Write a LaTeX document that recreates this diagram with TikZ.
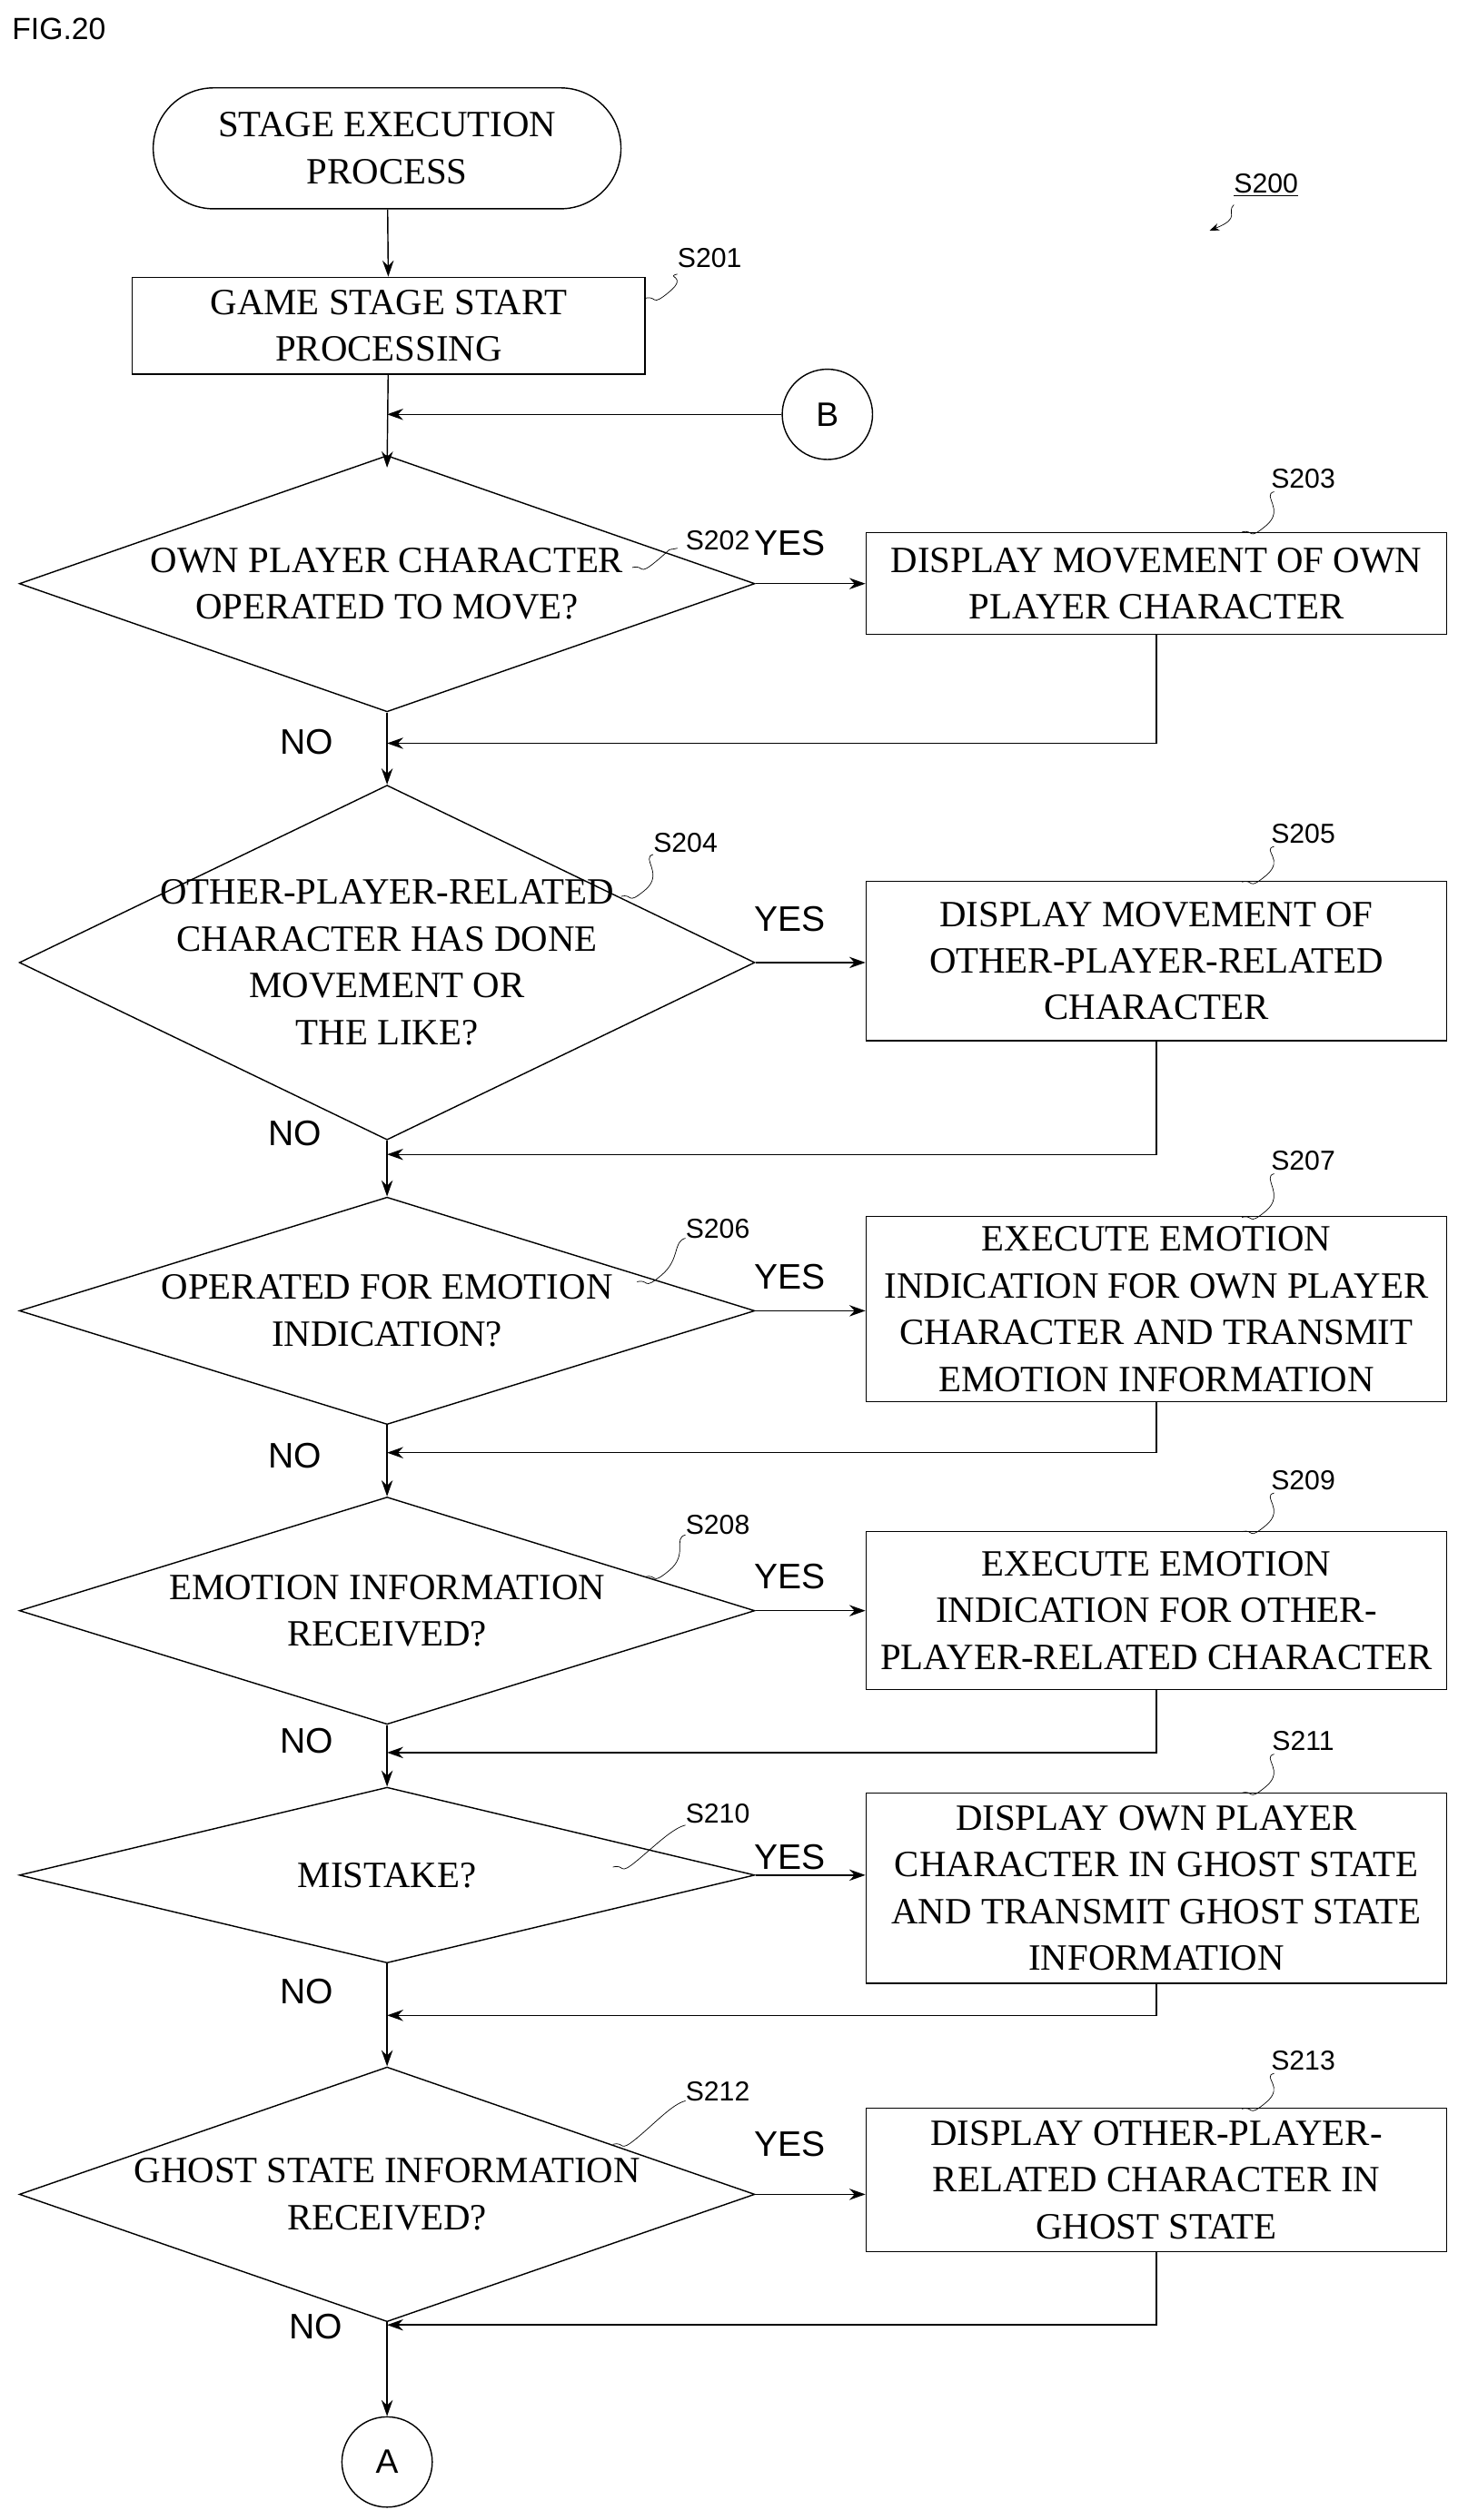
\documentclass[tikz,border=0pt]{standalone}
\usepackage{fontspec}
\setmainfont{Liberation Serif}
\newfontfamily\lblfont{Liberation Sans}
\usetikzlibrary{shapes.geometric,shapes.misc,arrows.meta}

\tikzset{
  proc/.style={draw,thick,rectangle,inner sep=0pt,align=center,font=\fontsize{23}{29}\selectfont},
  term/.style={draw,thick,rounded rectangle,inner sep=0pt,align=center,font=\fontsize{23}{29}\selectfont},
  dec/.style={draw,thick,diamond,inner sep=0pt},
  dtext/.style={align=center,font=\fontsize{23}{29}\selectfont},
  conn/.style={draw,thick,circle,minimum size=56pt,inner sep=0pt,font=\lblfont\fontsize{21}{24}\selectfont},
  ans/.style={font=\lblfont\fontsize{22}{24}\selectfont},
  sno/.style={font=\lblfont\fontsize{17}{20}\selectfont},
  flow/.style={thick,-{Stealth[length=10pt,width=7pt]}},
  lead/.style={thin}
}
\newcommand{\sqlead}[2]{\draw[lead] (#1) .. controls ++(8,-2) and ++(-12,10) .. ++(15,-4) .. controls ++(12,-10) and ++(-8,2) .. (#2);}

\begin{document}
\begin{tikzpicture}[x=1pt,y=-1pt]
\useasboundingbox (0,0) rectangle (910,1563);
\node[font=\lblfont\fontsize{19}{22}\selectfont,anchor=west] (fig) at (4,18) {FIG.20};

% start and first step
\node[term,minimum width=290pt,minimum height=75pt] (start) at (240,92) {STAGE EXECUTION\\PROCESS};
\node[sno] (s200) at (785,115) {\underline{S200}};
\coordinate (s200a) at (750,143);
\draw[lead,-{Stealth[length=6pt]}] (765,127) .. controls (760,132) and (770,135) .. (s200a);
\node[proc,minimum width=318pt,minimum height=60pt] (s201) at (241,202) {GAME STAGE START\\PROCESSING};
\node[sno] (l201) at (440,160) {S201};
\sqlead{400,185}{420,170}
\node[conn] (B) at (513,257) {B};
\draw[flow] (start) -- (s201);
\draw[flow] (s201) -- (240,290);
\draw[flow] (B) -- (240,257);

% S202 / S203
\node[dec,minimum width=456pt,minimum height=159pt] (d202) at (240,362) {};
\node[dtext] at (d202) {OWN PLAYER CHARACTER\\OPERATED TO MOVE?};
\node[proc,minimum width=360pt,minimum height=63pt] (s203) at (717,362) {DISPLAY MOVEMENT OF OWN\\PLAYER CHARACTER};
\node[sno] (l202) at (445,335) {S202};
\sqlead{392,352}{420,340}
\node[sno] (l203) at (808,297) {S203};
\sqlead{770,330}{790,305}
\node[ans] (y202) at (490,337) {YES};
\node[ans] (n202) at (190,460) {NO};
\draw[flow] (d202.east) -- (d202.east -| s203.west);

% S204 / S205
\node[dec,minimum width=456pt,minimum height=220pt] (d204) at (240,597) {};
\node[dtext] at (d204) {OTHER-PLAYER-RELATED\\CHARACTER HAS DONE\\MOVEMENT OR\\THE LIKE?};
\node[proc,minimum width=360pt,minimum height=99pt] (s205) at (717,596) {DISPLAY MOVEMENT OF\\OTHER-PLAYER-RELATED\\CHARACTER};
\node[sno] (l204) at (425,523) {S204};
\sqlead{385,556}{405,530}
\node[sno] (l205) at (808,517) {S205};
\sqlead{770,547}{790,525}
\node[ans] (y204) at (490,570) {YES};
\node[ans] (n204) at (183,703) {NO};
\draw[flow] (d202) -- (d204);
\draw[flow] (s203.south) |- (240,461);
\draw[flow] (d204.east) -- (d204.east -| s205.west);

% S206 / S207
\node[dec,minimum width=456pt,minimum height=141pt] (d206) at (240,813) {};
\node[dtext] at (d206) {OPERATED FOR EMOTION\\INDICATION?};
\node[proc,minimum width=360pt,minimum height=115pt] (s207) at (717,812) {EXECUTE EMOTION\\INDICATION FOR OWN PLAYER\\CHARACTER AND TRANSMIT\\EMOTION INFORMATION};
\node[sno] (l206) at (445,762) {S206};
\sqlead{395,795}{425,768}
\node[sno] (l207) at (808,720) {S207};
\sqlead{770,755}{790,728}
\node[ans] (y206) at (490,792) {YES};
\node[ans] (n206) at (183,903) {NO};
\draw[flow] (d204) -- (d206);
\draw[flow] (s205.south) |- (240,716);
\draw[flow] (d206.east) -- (d206.east -| s207.west);

% S208 / S209
\node[dec,minimum width=456pt,minimum height=141pt] (d208) at (240,999) {};
\node[dtext] at (d208) {EMOTION INFORMATION\\RECEIVED?};
\node[proc,minimum width=360pt,minimum height=98pt] (s209) at (717,999) {EXECUTE EMOTION\\INDICATION FOR OTHER-\\PLAYER-RELATED CHARACTER};
\node[sno] (l208) at (445,946) {S208};
\sqlead{400,978}{425,952}
\node[sno] (l209) at (808,918) {S209};
\sqlead{770,950}{790,926}
\node[ans] (y208) at (490,978) {YES};
\node[ans] (n208) at (190,1080) {NO};
\draw[flow] (d206) -- (d208);
\draw[flow] (s207.south) |- (240,901);
\draw[flow] (d208.east) -- (d208.east -| s209.west);

% S210 / S211
\node[dec,minimum width=456pt,minimum height=109pt] (d210) at (240,1163) {};
\node[dtext] at (d210) {MISTAKE?};
\node[proc,minimum width=360pt,minimum height=118pt] (s211) at (717,1171) {DISPLAY OWN PLAYER\\CHARACTER IN GHOST STATE\\AND TRANSMIT GHOST STATE\\INFORMATION};
\node[sno] (l210) at (445,1125) {S210};
\sqlead{380,1158}{425,1132}
\node[sno] (l211) at (808,1080) {S211};
\sqlead{770,1112}{790,1088}
\node[ans] (y210) at (490,1152) {YES};
\node[ans] (n210) at (190,1235) {NO};
\draw[flow] (d208) -- (d210);
\draw[flow] (s209.south) |- (240,1087);
\draw[flow] (d210.east) -- (d210.east -| s211.west);

% S212 / S213
\node[dec,minimum width=456pt,minimum height=158pt] (d212) at (240,1361) {};
\node[dtext] at (d212) {GHOST STATE INFORMATION\\RECEIVED?};
\node[proc,minimum width=360pt,minimum height=89pt] (s213) at (717,1352) {DISPLAY OTHER-PLAYER-\\RELATED CHARACTER IN\\GHOST STATE};
\node[sno] (l212) at (445,1297) {S212};
\sqlead{380,1330}{425,1303}
\node[sno] (l213) at (808,1278) {S213};
\sqlead{770,1308}{790,1286}
\node[ans] (y212) at (490,1330) {YES};
\node[ans] (n212) at (196,1443) {NO};
\draw[flow] (d210) -- (d212);
\draw[flow] (s211.south) |- (240,1250);
\draw[flow] (d212.east) -- (d212.east -| s213.west);

% exit
\node[conn] (A) at (240,1527) {A};
\draw[flow] (d212) -- (A);
\draw[flow] (s213.south) |- (240,1442);
\end{tikzpicture}
\end{document}
